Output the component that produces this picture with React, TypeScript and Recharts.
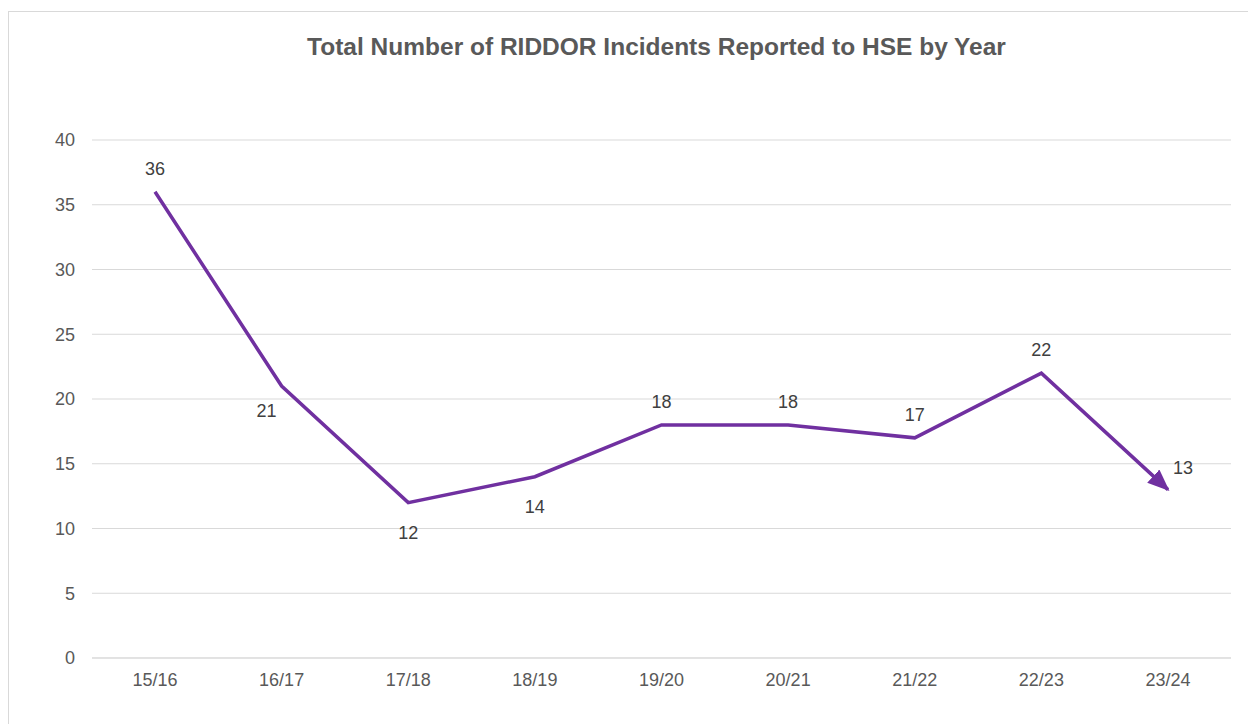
import { CartesianGrid, LabelList, Line, LineChart, XAxis, YAxis } from 'recharts';

const years = ['15/16', '16/17', '17/18', '18/19', '19/20', '20/21', '21/22', '22/23', '23/24'];
const incidents = [36, 21, 12, 14, 18, 18, 17, 22, 13];
const yTicks = [0, 5, 10, 15, 20, 25, 30, 35, 40];

// where each value label sits relative to its point
const labelSpots = ['above', 'belowLeft', 'below', 'below', 'above', 'above', 'above', 'above', 'right'];

const spotOffset: Record<string, [number, number]> = {
  above: [0, -23],
  below: [0, 30],
  belowLeft: [-15, 25],
  right: [15, -22],
};

const data = years.map((year, i) => ({ year, incidents: incidents[i] }));

const PURPLE = '#7030A0';
const GRID = '#d9d9d9';
const TEXT = '#595959';

function ValueLabel(props: any) {
  const { x, y, value, index } = props;
  const [dx, dy] = spotOffset[labelSpots[index]] ?? [0, -23];
  return (
    <text
      x={x + dx}
      y={y + dy}
      textAnchor="middle"
      dominantBaseline="central"
      fill="#404040"
      fontSize={18}
      fontFamily="Liberation Sans, Arial, sans-serif"
    >
      {value}
    </text>
  );
}

export default function App() {
  return (
    <div
      style={{
        position: 'relative',
        marginTop: 3,
        width: 1262,
        height: 730,
        border: `1px solid ${GRID}`,
        boxSizing: 'border-box',
        fontFamily: 'Liberation Sans, Arial, sans-serif',
        background: '#fff',
      }}
    >
      <svg width={0} height={0} style={{ position: 'absolute' }}>
        <defs>
          <marker
            id="arrowEnd"
            viewBox="0 0 22 18"
            refX={20}
            refY={9}
            markerWidth={22}
            markerHeight={18}
            markerUnits="userSpaceOnUse"
            orient="auto"
          >
            <path d="M0,0 L22,9 L0,18 z" fill={PURPLE} />
          </marker>
        </defs>
      </svg>
      <div
        style={{
          position: 'absolute',
          left: 0,
          width: 1295,
          top: 21,
          textAlign: 'center',
          fontSize: 24.5,
          fontWeight: 'bold',
          color: TEXT,
        }}
      >
        Total Number of RIDDOR Incidents Reported to HSE by Year
      </div>
      <LineChart width={1258} height={713} data={data} margin={{ top: 128, right: 36, bottom: 37, left: 0 }}>
        <CartesianGrid vertical={false} stroke={GRID} strokeWidth={1} />
        <XAxis
          dataKey="year"
          padding={{ left: 63, right: 63 }}
          axisLine={{ stroke: GRID }}
          tickLine={false}
          tickSize={0}
          tickMargin={15}
          height={30}
          tick={{ fill: TEXT, fontSize: 18 }}
        />
        <YAxis
          domain={[0, 40]}
          ticks={yTicks}
          axisLine={false}
          tickLine={false}
          tickSize={0}
          tickMargin={17}
          width={83}
          tick={{ fill: TEXT, fontSize: 18 }}
        />
        <Line
          type="linear"
          dataKey="incidents"
          stroke={PURPLE}
          strokeWidth={3.5}
          dot={false}
          markerEnd="url(#arrowEnd)"
          isAnimationActive={false}
        >
          <LabelList dataKey="incidents" content={ValueLabel} />
        </Line>
      </LineChart>
    </div>
  );
}
